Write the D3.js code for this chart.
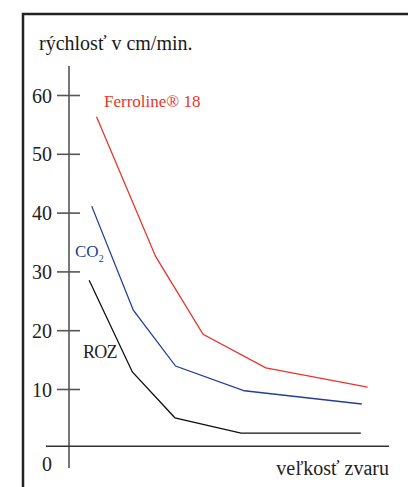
<!DOCTYPE html>
<html>
<head>
<meta charset="utf-8">
<script src="https://cdn.jsdelivr.net/npm/d3@7"></script>
<style>
  html, body { margin: 0; padding: 0; background: #fff; }
  svg { display: block; }
  text { font-family: "Liberation Serif", "Times New Roman", serif; }
</style>
</head>
<body>
<svg id="chart" width="408" height="487"></svg>
<script>
// ---- data ----
const yTicks = [10, 20, 30, 40, 50, 60];
const zeroLabel = "0";
const yTitle = "rýchlosť v cm/min.";
const xTitle = "veľkosť zvaru";

const ferrolineX = [0.86, 2.71, 4.19, 6.15, 9.33];
const ferrolineY = [56.3, 32.5, 19.3, 13.6, 10.3];

const co2X = [0.71, 2.01, 3.33, 5.48, 9.15];
const co2Y = [41.1, 23.4, 13.9, 9.7, 7.45];

const rozX = [0.63, 1.98, 3.31, 5.375, 9.12];
const rozY = [28.5, 12.9, 5.1, 2.5, 2.5];

const seriesNames = ["Ferroline® 18", "CO", "ROZ"];

// ---- layout ----
const svg = d3.select("#chart");
const x = d3.scaleLinear().domain([0, 10]).range([69, 389]);
const y = d3.scaleLinear().domain([0, 60]).range([447.8, 95]);

// frame (left + top, clipped on right/bottom)
svg.append("path")
  .attr("d", "M23,487 V14 H408")
  .attr("fill", "none").attr("stroke", "#222").attr("stroke-width", 2.5);

// y axis title
svg.append("text").attr("x", 39).attr("y", 50)
  .attr("font-size", 20).attr("fill", "#1a1a1a").text(yTitle);

// y axis
const axisColor = "#555";
svg.append("line").attr("x1", 69).attr("x2", 69).attr("y1", 66).attr("y2", 468)
  .attr("stroke", axisColor).attr("stroke-width", 1.6);

const yAxis = d3.axisLeft(y).tickValues(yTicks).tickSize(12).tickPadding(5);
const gy = svg.append("g").attr("transform", "translate(69,0)").call(yAxis);
gy.select(".domain").remove();
gy.selectAll(".tick line").attr("x1", -12).attr("x2", 11)
  .attr("stroke", axisColor).attr("stroke-width", 1.6);
gy.selectAll(".tick text").attr("font-size", 20).attr("fill", "#222")
  .attr("font-family", "Liberation Serif, serif")
  .attr("x", -17).attr("dy", "0.35em");

// x axis line
svg.append("line").attr("x1", 46).attr("x2", 389).attr("y1", y(0) - 1.5).attr("y2", y(0) - 1.5)
  .attr("stroke", "#333").attr("stroke-width", 1.4);

svg.append("text").attr("x", 52).attr("y", 471).attr("text-anchor", "end")
  .attr("font-size", 20).attr("fill", "#222").text(zeroLabel);

svg.append("text").attr("x", 389).attr("y", 475).attr("text-anchor", "end")
  .attr("font-size", 20).attr("fill", "#222").text(xTitle);

// lines
const line = d3.line().x(d => x(d[0])).y(d => y(d[1]));
const series = [
  { xs: ferrolineX, ys: ferrolineY, color: "#e8352c" },
  { xs: co2X, ys: co2Y, color: "#233f96" },
  { xs: rozX, ys: rozY, color: "#111" }
];
series.forEach(s => {
  svg.append("path")
    .datum(s.xs.map((v, i) => [v, s.ys[i]]))
    .attr("d", line)
    .attr("fill", "none").attr("stroke", s.color).attr("stroke-width", 1.3);
});

// series labels
svg.append("text").attr("x", 104).attr("y", 107).attr("font-size", 17)
  .attr("fill", "#e8352c").text(seriesNames[0]);

const co = svg.append("text").attr("x", 75).attr("y", 257).attr("font-size", 17)
  .attr("fill", "#233f96");
co.append("tspan").text(seriesNames[1]);
co.append("tspan").attr("font-size", 10).attr("dy", 5).text("2");

svg.append("text").attr("x", 83).attr("y", 358).attr("font-size", 18)
  .attr("letter-spacing", -0.8).attr("fill", "#222").text(seriesNames[2]);
</script>
</body>
</html>
